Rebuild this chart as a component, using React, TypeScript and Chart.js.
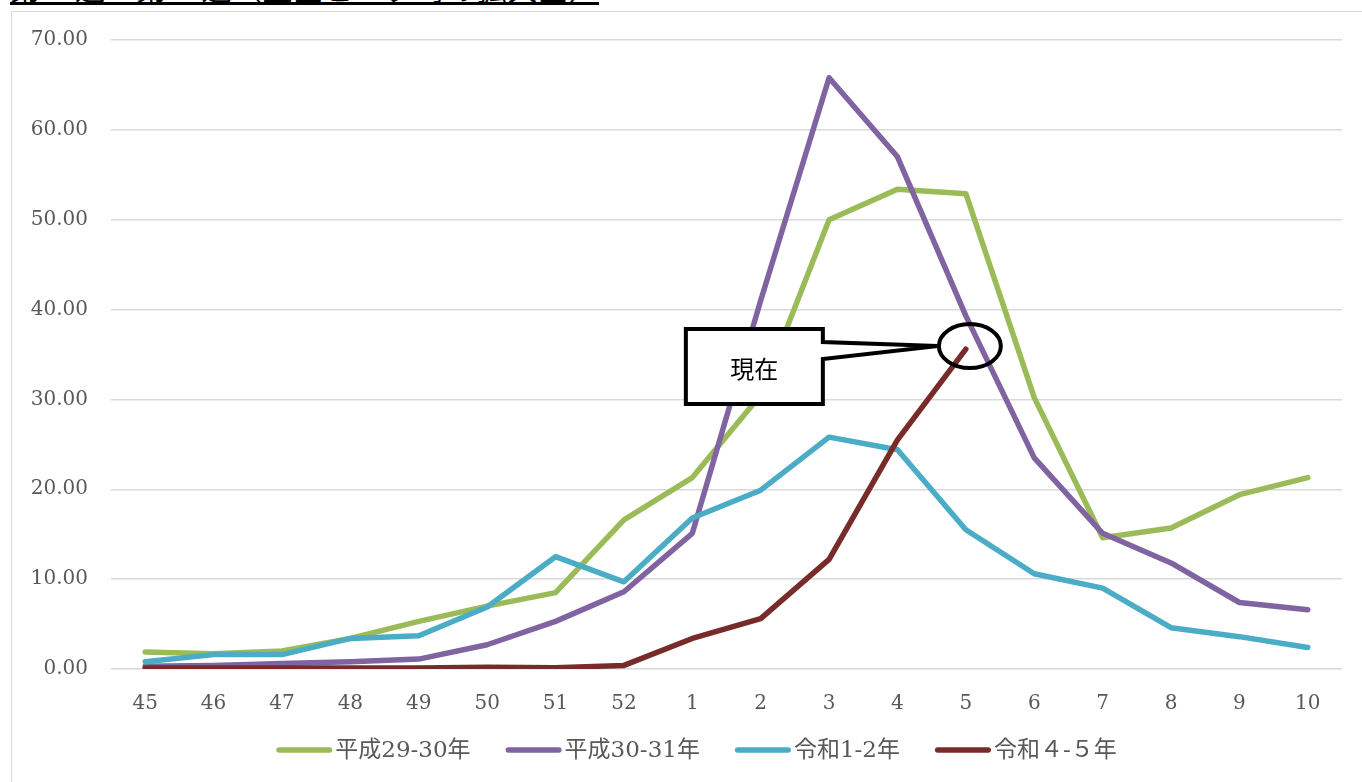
import React, { useEffect, useRef } from "react";
import { Chart, registerables } from "chart.js";

Chart.register(...registerables);

const weeks = ["45", "46", "47", "48", "49", "50", "51", "52", "1", "2", "3", "4", "5", "6", "7", "8", "9", "10"];
const h2930 = [1.9, 1.7, 2.0, 3.4, 5.3, 7.0, 8.5, 16.6, 21.3, 30.5, 50.0, 53.4, 52.9, 30.2, 14.6, 15.7, 19.4, 21.3];
const h3031 = [0.3, 0.4, 0.6, 0.8, 1.1, 2.7, 5.3, 8.6, 15.1, 41.0, 65.8, 57.0, 39.3, 23.5, 15.1, 11.8, 7.4, 6.6];
const r0102 = [0.8, 1.6, 1.6, 3.4, 3.7, 6.9, 12.5, 9.7, 16.8, 19.9, 25.8, 24.4, 15.5, 10.6, 9.0, 4.6, 3.6, 2.4];
const r0405 = [0.1, 0.1, 0.1, 0.1, 0.1, 0.2, 0.15, 0.4, 3.4, 5.6, 12.2, 25.5, 35.6];
const seriesNames = ["平成29-30年", "平成30-31年", "令和1-2年", "令和４-５年"];
const seriesColors = ["#9BBB59", "#8064A2", "#4BACC6", "#772C2A"];
const yMin = 0;
const yMax = 70;
const yStep = 10;
const calloutText = "現在";
const titleText = "第45週～第10週（上図ピーク時の拡大図）";

const TICK_COLOR = "#595959";
const SERIF = "'DejaVu Serif', 'Noto Sans CJK JP'";

const calloutPlugin = {
  id: "callout",
  afterDatasetsDraw(chart: any) {
    const meta = chart.getDatasetMeta(3);
    const pt = meta.data[meta.data.length - 1];
    if (!pt) return;
    const cx = pt.x + 4;
    const cy = pt.y - 3;
    const ctx = chart.ctx;
    ctx.save();
    ctx.lineWidth = 4;
    ctx.strokeStyle = "#000";
    ctx.lineJoin = "miter";
    const bl = cx - 284;
    const br = cx - 147;
    const bt = cy - 17;
    const bb = cy + 58;
    ctx.beginPath();
    ctx.moveTo(bl, bt);
    ctx.lineTo(br, bt);
    ctx.lineTo(br, cy - 4);
    ctx.lineTo(cx - 32, cy);
    ctx.lineTo(br, cy + 13);
    ctx.lineTo(br, bb);
    ctx.lineTo(bl, bb);
    ctx.closePath();
    ctx.fillStyle = "#fff";
    ctx.fill();
    ctx.stroke();
    ctx.fillStyle = "#000";
    ctx.font = "24px 'Noto Sans CJK JP'";
    ctx.textAlign = "center";
    ctx.textBaseline = "middle";
    ctx.fillText(calloutText, (bl + br) / 2, (bt + bb) / 2 + 2);
    ctx.beginPath();
    ctx.ellipse(cx, cy, 31, 22, 0, 0, Math.PI * 2);
    ctx.stroke();
    ctx.restore();
  },
};

// Legend drawn under the plot: swatch + label, centred row
const legendPlugin = {
  id: "lineLegend",
  afterDraw(chart: any) {
    const ctx = chart.ctx;
    const sw = 56;
    const sh = 5.5;
    const gap = 3;
    const spacing = 35;
    ctx.save();
    ctx.font = "23px " + SERIF;
    ctx.textBaseline = "middle";
    ctx.textAlign = "left";
    const items = chart.data.datasets.map((ds: any) => ({
      text: ds.label,
      color: ds.borderColor,
      w: ctx.measureText(ds.label).width,
    }));
    const total =
      items.reduce((a: number, it: any) => a + sw + gap + it.w, 0) + spacing * (items.length - 1);
    const centerX = (chart.chartArea.left + chart.chartArea.right) / 2 - 30;
    const y = chart.chartArea.bottom + 81;
    let x = centerX - total / 2;
    items.forEach((it: any) => {
      ctx.strokeStyle = it.color;
      ctx.lineWidth = sh;
      ctx.lineCap = "round";
      ctx.beginPath();
      ctx.moveTo(x + sh / 2, y);
      ctx.lineTo(x + sw - sh / 2, y);
      ctx.stroke();
      ctx.fillStyle = TICK_COLOR;
      ctx.fillText(it.text, x + sw + gap, y + 1);
      x += sw + gap + it.w + spacing;
    });
    ctx.restore();
  },
};

export default function App() {
  const ref = useRef<HTMLCanvasElement>(null);
  useEffect(() => {
    if (!ref.current) return;
    const seriesData = [h2930, h3031, r0102, r0405];
    const chart = new Chart(ref.current, {
      type: "line",
      data: {
        labels: weeks,
        datasets: seriesData.map((d, i) => ({
          label: seriesNames[i],
          data: d,
          borderColor: seriesColors[i],
          backgroundColor: seriesColors[i],
          borderWidth: 5.5,
          pointRadius: 0,
          pointHoverRadius: 0,
          tension: 0,
          fill: false,
          borderCapStyle: "round",
          borderJoinStyle: "round",
          order: 3 - i,
        })) as any,
      },
      options: {
        animation: false,
        responsive: true,
        maintainAspectRatio: false,
        layout: { padding: { left: 0, right: 20, top: 28, bottom: 53 } },
        plugins: {
          legend: { display: false },
          tooltip: { enabled: false },
        },
        scales: {
          x: {
            offset: true,
            grid: { display: false },
            border: { display: false },
            ticks: {
              color: TICK_COLOR,
              font: { family: SERIF, size: 20 },
              padding: 15,
              maxRotation: 0,
              autoSkip: false,
            },
            afterFit: (s: any) => {
              s.height = 60;
            },
          },
          y: {
            min: yMin,
            max: yMax,
            ticks: {
              stepSize: yStep,
              callback: (v: any) => Number(v).toFixed(2),
              color: TICK_COLOR,
              font: { family: SERIF, size: 20 },
              padding: 23,
            },
            grid: { color: "#d9d9d9", lineWidth: 1.5, drawTicks: false },
            border: { display: false },
            afterFit: (s: any) => {
              s.width = 99;
              s.paddingTop = 0;
              s.paddingBottom = 0;
            },
          },
        },
      } as any,
      plugins: [calloutPlugin, legendPlugin],
    });
    return () => chart.destroy();
  }, []);

  return (
    <div style={{ position: "fixed", left: 0, top: 0, width: 1362, height: 782, overflow: "hidden", background: "#fff" }}>
      <div
        style={{
          position: "absolute",
          left: 10,
          top: -28,
          fontFamily: "'Noto Sans CJK JP'",
          fontSize: 30,
          letterSpacing: "0.6px",
          lineHeight: "30px",
          borderBottom: "3px solid #000",
          whiteSpace: "nowrap",
          color: "#000",
        }}
      >
        {titleText}
      </div>
      <div
        style={{
          position: "absolute",
          left: 11,
          top: 11,
          right: -5,
          bottom: -5,
          borderLeft: "1.5px solid #d9d9d9",
          borderTop: "1.5px solid #d9d9d9",
        }}
      />
      <div style={{ position: "absolute", left: 12, top: 12, width: 1350, height: 770 }}>
        <canvas ref={ref} />
      </div>
    </div>
  );
}
